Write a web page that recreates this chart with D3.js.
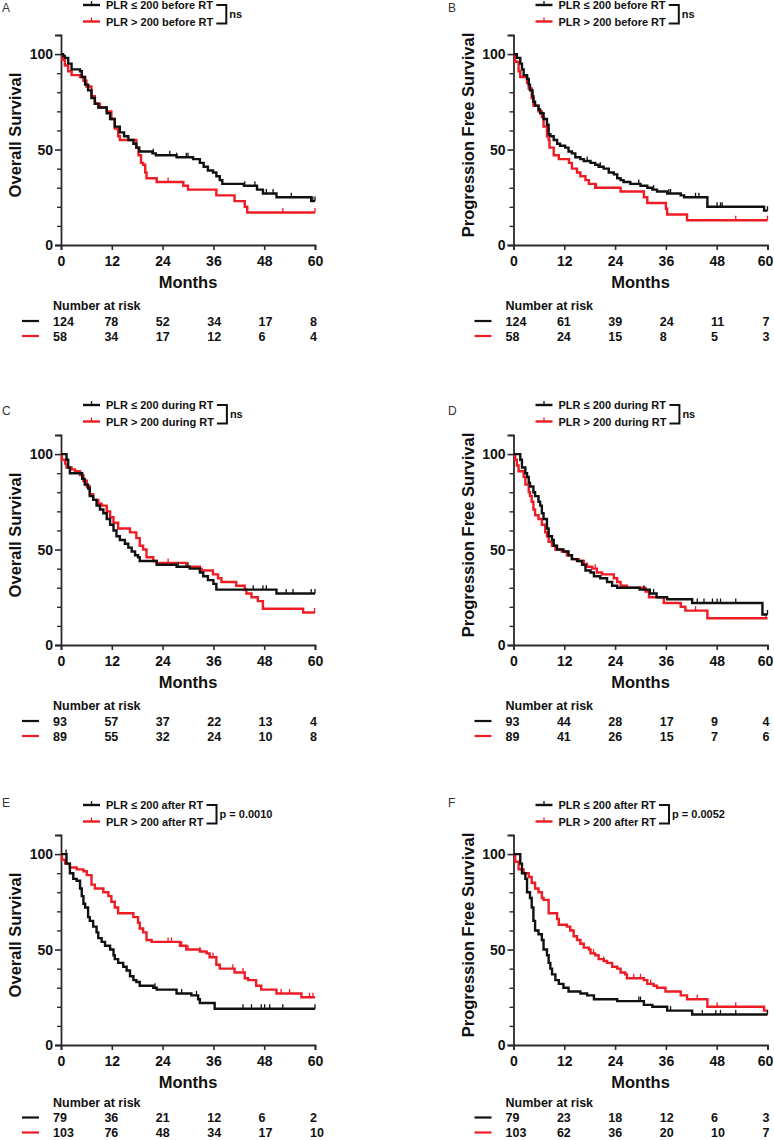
<!DOCTYPE html>
<html><head><meta charset="utf-8">
<script src="https://cdn.jsdelivr.net/npm/d3@7"></script>
<style>
body{margin:0;background:#fff}
svg{display:block}
text{font-family:"Liberation Sans",Arial,sans-serif}
</style>
</head><body>
<svg id="chart" width="774" height="1140"></svg>
<script>
// ---------------- DATA ----------------
const monthTicks = [0, 12, 24, 36, 48, 60];
const survTicksMajor = [0, 50, 100];
const survTicksMinor = [10, 20, 30, 40, 60, 70, 80, 90, 110];

const panelLetters = ["A", "B", "C", "D", "E", "F"];
const yTitles = ["Overall Survival", "Progression Free Survival", "Overall Survival",
                 "Progression Free Survival", "Overall Survival", "Progression Free Survival"];
const lowLabels  = ["PLR ≤ 200 before RT", "PLR ≤ 200 before RT", "PLR ≤ 200 during RT",
                    "PLR ≤ 200 during RT", "PLR ≤ 200 after RT", "PLR ≤ 200 after RT"];
const highLabels = ["PLR > 200 before RT", "PLR > 200 before RT", "PLR > 200 during RT",
                    "PLR > 200 during RT", "PLR > 200 after RT", "PLR > 200 after RT"];
const statLabels = ["ns", "ns", "ns", "ns", "p = 0.0010", "p = 0.0052"];

// Kaplan-Meier steps: [month, survival %]
const aLow = [[0,100],[0.5,99],[0.9,98],[1.7,95],[2.5,92],[4.5,91],[4.9,88],[5.7,84],[6.4,81],[7.2,77],[8.0,74],[8.8,72],[10.8,69],[11.6,66],[12.7,62],[13.9,59],[14.9,57],[15.9,55],[17.1,53],[17.8,51],[18.5,49],[21.6,48],[22.4,47],[27.3,46],[31.2,45],[32.8,43],[33.7,41],[34.7,39],[35.9,38],[36.7,36],[37.5,34],[38.1,32],[43.2,31],[46.3,29],[47.7,27],[50.9,25],[59.1,23]];
const aHigh = [[0,100],[0.3,97],[0.9,94],[1.7,91],[2.5,89],[4.5,88],[5.3,86],[6.0,83],[7.2,78],[8.0,74],[9.2,72],[10.8,70],[11.9,66],[12.7,61],[13.5,57],[13.9,55],[17.8,51],[18.3,47],[18.9,43],[19.4,42],[19.9,38],[20.2,35],[22.6,33],[28.9,31],[30.0,29],[36.7,26],[41.0,23],[43.4,20],[44.0,17]];
const aLowCens = [21.8,25.7,27.3,29.6,30.0,43.4,45.8,48.5,50.1,54.4,59.5,60];
const aHighCens = [25.3,52.4,60];

const bLow = [[0,100],[0.8,98],[1.6,95],[2.0,92],[2.4,89],[3.2,87],[3.6,84],[3.9,81],[4.5,78],[4.7,75],[5.1,73],[5.9,71],[6.3,69],[7.1,66],[7.9,63],[8.3,58],[8.7,57],[9.5,55],[10.3,53],[11.0,52],[12.2,51],[13.0,49],[13.8,48],[14.6,46],[15.8,45],[16.6,44],[18.2,43],[19.3,42],[20.1,41],[21.3,40],[22.5,38],[23.7,37],[24.5,35],[25.3,34],[26.0,33],[27.6,32],[30.0,31],[31.6,30],[32.8,29],[33.9,28],[36.3,27],[39.5,26],[40.3,25],[45.8,20],[59.2,18]];
const bHigh = [[0,100],[0.4,96],[1.2,91],[1.6,88],[3.2,85],[3.6,82],[4.3,77],[4.7,73],[5.9,70],[6.7,67],[7.1,62],[7.9,57],[8.3,55],[8.5,51],[9.5,47],[10.7,45],[13.1,43],[13.8,40],[15.0,38],[15.8,36],[17.0,34],[17.8,32],[19.3,30],[25.3,28],[30.8,25],[31.6,22],[36.0,19],[36.3,16],[41.0,13]];
const bLowCens = [17.4,20.5,22.5,24.5,29.6,33.1,36.7,37.1,43.0,43.8,48.1,48.9,49.3,59.2,60];
const bHighCens = [19.6,52.5,60];

const cLow = [[0,100],[1.3,97],[1.7,93],[2.1,90],[5.0,87],[5.6,84],[6.4,82],[6.8,78],[7.6,76],[8.4,73],[9.2,71],[10.0,69],[10.8,66],[11.6,63],[12.4,60],[13.1,57],[13.9,55],[15.1,53],[15.9,51],[16.7,49],[17.5,47],[18.2,46],[18.6,44],[22.6,42],[27.3,41],[30.4,40],[32.8,38],[33.6,36],[34.7,34],[36.0,32],[36.7,29],[50.9,27]];
const cHigh = [[0,100],[0.2,97],[1.0,95],[1.3,93],[2.5,92],[3.3,91],[4.5,89],[5.3,86],[6.1,83],[6.8,79],[7.6,76],[8.8,74],[9.6,73],[10.8,70],[11.6,67],[12.4,64],[13.5,61],[16.3,59],[17.8,56],[18.6,52],[19.4,50],[20.2,46],[21.8,44],[22.6,43],[29.6,41],[32.8,40],[33.2,39],[35.9,37],[37.1,35],[37.9,33],[41.4,31],[43.4,29],[43.8,27],[45.0,25],[46.5,23],[47.7,19],[57.2,17]];
const cLowCens = [27.7,30.0,45.4,47.7,48.5,53.2,54.8,59.1,60];
const cHighCens = [25.3,59.9];

const dLow = [[0,100],[1.6,97],[2.0,93],[2.8,90],[3.2,88],[3.6,85],[3.9,83],[4.7,80],[5.1,78],[5.9,75],[6.3,73],[6.7,69],[7.1,66],[7.9,61],[8.3,57],[9.1,55],[9.5,52],[10.3,50],[11.8,49],[13.0,47],[13.8,45],[15.0,44],[16.2,42],[17.0,39],[18.2,38],[19.0,36],[20.5,35],[22.1,33],[23.3,31],[24.5,30],[29.8,29],[32.2,27],[33.8,25],[36.3,24],[42.2,22],[58.8,16]];
const dHigh = [[0,100],[0.4,97],[0.8,94],[1.2,91],[2.4,88],[2.8,84],[3.6,80],[3.9,78],[4.3,75],[4.7,71],[5.1,68],[5.9,66],[6.7,63],[7.5,59],[7.9,57],[8.3,54],[9.1,52],[9.9,50],[11.4,49],[12.6,47],[13.8,45],[15.4,44],[16.6,42],[17.4,41],[18.6,40],[19.7,38],[20.9,37],[23.7,35],[24.5,33],[25.3,31],[26.8,30],[31.2,28],[32.0,25],[35.5,22],[39.5,20],[40.6,18],[45.8,14]];
const dLowCens = [30.8,33.1,43.4,45.0,47.0,48.1,48.9,52.5,60];
const dHighCens = [17.4,19.3,19.7,43.0,59.6];

const eLow = [[0,100],[1.3,95],[2.1,90],[2.9,87],[3.7,86],[4.5,82],[4.9,78],[5.3,74],[5.7,72],[6.4,67],[6.8,65],[7.6,62],[8.4,59],[8.8,56],[9.6,54],[10.4,52],[11.6,50],[12.4,47],[12.7,45],[13.5,43],[14.7,41],[15.5,39],[16.3,36],[17.1,34],[17.8,33],[18.6,31],[21.8,30],[22.6,29],[27.3,27],[30.8,26],[32.4,24],[32.8,22],[36.3,19]];
const eHigh = [[0,100],[0.2,97],[1.0,95],[2.1,93],[3.7,92],[5.3,91],[6.1,89],[7.2,84],[8.0,82],[10.0,80],[11.2,78],[11.9,75],[12.7,72],[13.5,69],[17.1,67],[18.2,64],[18.6,61],[19.4,59],[20.2,55],[21.4,54],[28.1,52],[29.6,50],[32.8,49],[34.4,48],[35.1,46],[36.7,42],[37.5,40],[41.0,38],[43.4,35],[44.2,34],[46.1,31],[47.3,29],[50.9,27],[56.8,25]];
const eLowCens = [1.2,22.2,27.3,28.5,32.0,43.0,45.0,47.3,48.1,49.3,52.4,60];
const eHighCens = [25.3,26.1,28.5,30.0,32.8,35.9,40.6,43.0,52.0,54.0,58.7,59.5];

const fLow = [[0,100],[1.6,95],[2.0,90],[2.8,87],[3.2,80],[3.9,77],[4.3,72],[4.7,65],[5.1,60],[5.9,58],[6.7,55],[7.1,50],[7.9,47],[8.3,43],[8.7,40],[9.1,37],[9.9,34],[10.7,32],[11.8,30],[13.0,28],[15.8,27],[17.4,26],[19.0,24],[24.5,23],[30.8,21],[32.8,20],[36.3,18],[42.2,16]];
const fHigh = [[0,100],[0.4,96],[1.2,92],[2.4,90],[3.6,88],[4.3,85],[5.1,82],[5.9,80],[6.7,77],[7.1,76],[8.3,69],[10.3,66],[10.7,63],[12.6,62],[13.4,60],[14.2,57],[15.0,55],[15.8,53],[16.6,51],[17.8,50],[18.2,48],[19.3,47],[20.1,45],[21.3,44],[22.1,43],[23.3,41],[24.5,40],[25.3,38],[26.4,37],[26.8,35],[30.8,34],[31.6,32],[33.1,31],[33.9,30],[35.9,28],[39.5,26],[41.0,24],[45.8,20],[59.2,18]];
const fLowCens = [29.6,30.0,37.1,44.6,47.8,48.9,52.5,60];
const fHighCens = [18.9,21.3,28.4,30.0,32.4,43.4,48.1,52.5];

// Numbers at risk at 0,12,24,36,48,60 months
const riskLow  = [[124,78,52,34,17,8],[124,61,39,24,11,7],[93,57,37,22,13,4],[93,44,28,17,9,4],[79,36,21,12,6,2],[79,23,18,12,6,3]];
const riskHigh = [[58,34,17,12,6,4],[58,24,15,8,5,3],[89,55,32,24,10,8],[89,41,26,15,7,6],[103,76,48,34,17,10],[103,62,36,20,10,7]];

const lowSteps  = [aLow, bLow, cLow, dLow, eLow, fLow];
const highSteps = [aHigh, bHigh, cHigh, dHigh, eHigh, fHigh];
const lowCens   = [aLowCens, bLowCens, cLowCens, dLowCens, eLowCens, fLowCens];
const highCens  = [aHighCens, bHighCens, cHighCens, dHighCens, eHighCens, fHighCens];

// ---------------- LAYOUT / STYLE ----------------
const BLACK = "#111", RED = "#ee1c25", AXIS = "#2a2a2a";
const COLS = [0, 452.5], ROWS = [0, 400, 800];
const letterY = [12, 415, 807];
const tableShift = [0, 0, -3.5];   // keep the lowest table inside the page
const W = 774;

const svg = d3.select("#chart");
const x = d3.scaleLinear().domain([0, 60]).range([61, 315]);
const y = d3.scaleLinear().domain([0, 110]).range([245, 35]);

function valueAt(steps, t) {
  let v = steps[0][1];
  for (const s of steps) { if (s[0] <= t) v = s[1]; else break; }
  return v;
}

const line = d3.line().x(d => x(d[0])).y(d => y(d[1])).curve(d3.curveStepAfter);

for (let p = 0; p < 6; p++) {
  const col = p % 2, row = Math.floor(p / 2);
  const ox = COLS[col], oy = ROWS[row];
  const g = svg.append("g").attr("transform", `translate(${ox},${oy})`);

  // panel letter
  svg.append("text").attr("x", ox + (col ? -4.5 : 2)).attr("y", letterY[row])
    .attr("font-size", 12).attr("fill", "#333").text(panelLetters[p]);

  // axes
  const yAxis = d3.axisLeft(y).tickValues(survTicksMajor).tickSize(6).tickPadding(2);
  const yg = g.append("g").attr("transform", "translate(61,0)").call(yAxis);
  yg.select(".domain").attr("stroke", AXIS).attr("stroke-width", 1.8);
  yg.selectAll(".tick line").attr("stroke", AXIS).attr("stroke-width", 1.6);
  yg.selectAll(".tick text").attr("font-size", 14).attr("font-weight", "bold").attr("fill", "#111")
    .attr("font-family", '"Liberation Sans",Arial,sans-serif');
  const ym = d3.axisLeft(y).tickValues(survTicksMinor).tickSize(4).tickFormat("");
  const ymg = g.append("g").attr("transform", "translate(61,0)").call(ym);
  ymg.select(".domain").remove();
  ymg.selectAll(".tick line").attr("stroke", AXIS).attr("stroke-width", 1.4);

  const xAxis = d3.axisBottom(x).tickValues(monthTicks).tickSize(5).tickPadding(6);
  const xg = g.append("g").attr("transform", "translate(0,245)").call(xAxis);
  xg.select(".domain").attr("stroke", AXIS).attr("stroke-width", 1.8);
  xg.selectAll(".tick line").attr("stroke", AXIS).attr("stroke-width", 1.6);
  xg.selectAll(".tick text").attr("font-size", 14).attr("font-weight", "bold").attr("fill", "#111")
    .attr("font-family", '"Liberation Sans",Arial,sans-serif')
    .each(function () {
      // keep the last label inside the page
      const bb = this.getBBox();
      const tick = this.parentNode.getAttribute("transform");
      const tx = +tick.match(/translate\(([-\d.]+)/)[1];
      const right = ox + tx + bb.x + bb.width;
      if (right > W - 0.5) d3.select(this).attr("dx", (W - 0.5 - right));
    });

  // axis titles
  g.append("text").attr("x", (x(0) + x(60)) / 2).attr("y", 288).attr("text-anchor", "middle")
    .attr("font-size", 16.5).attr("font-weight", "bold").attr("fill", "#111").text("Months");
  g.append("text").attr("transform", "translate(21,135) rotate(-90)").attr("text-anchor", "middle")
    .attr("font-size", 16.5).attr("font-weight", "bold").attr("fill", "#111").text(yTitles[p]);

  // curves
  const series = [
    {steps: highSteps[p], cens: highCens[p], color: RED},
    {steps: lowSteps[p], cens: lowCens[p], color: BLACK}
  ];
  series.forEach(s => {
    const last = s.steps[s.steps.length - 1];
    const pts = s.steps.concat([[60, last[1]]]);
    g.append("path").attr("d", line(pts)).attr("fill", "none")
      .attr("stroke", s.color).attr("stroke-width", 2.4);
    g.selectAll(null).data(s.cens).enter().append("line")
      .attr("x1", d => x(d)).attr("x2", d => x(d))
      .attr("y1", d => y(valueAt(s.steps, d)))
      .attr("y2", d => y(valueAt(s.steps, d)) - 4.5)
      .attr("stroke", s.color).attr("stroke-width", 1.3);
  });

  // legend
  const legY = [5, 21.5];
  const legColors = [BLACK, RED];
  const legTexts = [lowLabels[p], highLabels[p]];
  let maxEnd = 0;
  legY.forEach((ly, i) => {
    g.append("line").attr("x1", 83).attr("x2", 100).attr("y1", ly).attr("y2", ly)
      .attr("stroke", legColors[i]).attr("stroke-width", 2.4);
    g.append("line").attr("x1", 91.5).attr("x2", 91.5).attr("y1", ly).attr("y2", ly - 4)
      .attr("stroke", legColors[i]).attr("stroke-width", 1.3);
    const t = g.append("text").attr("x", 106).attr("y", ly + 4).attr("font-size", 11)
      .attr("font-weight", "bold").attr("fill", "#111").text(legTexts[i]);
    maxEnd = Math.max(maxEnd, 106 + t.node().getComputedTextLength());
  });
  const bx0 = maxEnd + 3, bx1 = maxEnd + 13, by0 = legY[0], by1 = legY[1] + 2;
  g.append("path").attr("d", `M${bx0},${by0}H${bx1}V${by1}H${bx0}`)
    .attr("fill", "none").attr("stroke", "#111").attr("stroke-width", 2);
  g.append("text").attr("x", bx1 + 3).attr("y", (by0 + by1) / 2 + 4).attr("font-size", 11)
    .attr("font-weight", "bold").attr("fill", "#111").text(statLabels[p]);

  // number at risk table
  const ts = tableShift[row];
  g.append("text").attr("x", 53).attr("y", 310 + ts).attr("font-size", 12.5).attr("font-weight", "bold")
    .attr("fill", "#111").text("Number at risk");
  const rows = [
    {vals: riskLow[p], color: BLACK, yb: 325.5 + ts},
    {vals: riskHigh[p], color: RED, yb: 340.5 + ts}
  ];
  rows.forEach(r => {
    g.append("line").attr("x1", 22).attr("x2", 39).attr("y1", r.yb - 4.5).attr("y2", r.yb - 4.5)
      .attr("stroke", r.color).attr("stroke-width", 2.2);
    g.selectAll(null).data(r.vals).enter().append("text")
      .attr("x", (d, i) => x(monthTicks[i]) - 8 + i * 0.6)
      .attr("y", r.yb).attr("font-size", 12.5).attr("font-weight", "bold").attr("fill", "#111")
      .text(d => d);
  });
}
</script>
</body></html>
